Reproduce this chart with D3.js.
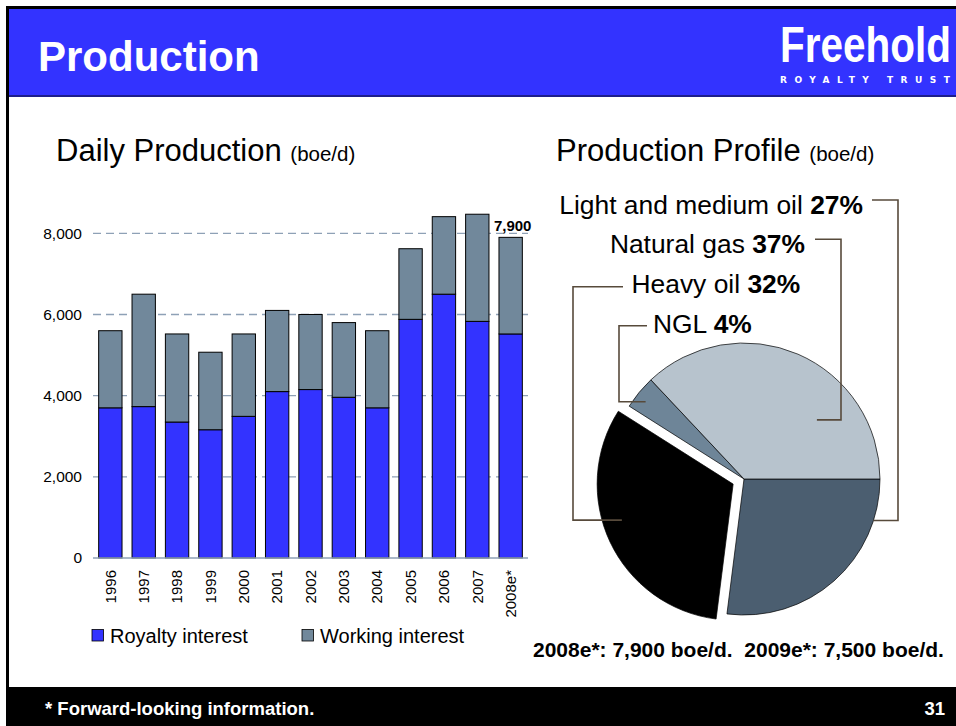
<!DOCTYPE html>
<html><head><meta charset="utf-8">
<script src="https://cdn.jsdelivr.net/npm/d3@7"></script>
<style>
html,body{margin:0;padding:0;background:#fff;}
svg{display:block;font-family:"Liberation Sans",Arial,sans-serif;}
text{white-space:pre;}
</style></head>
<body><svg id="c" width="956" height="726"></svg>
<script>
// ---- data ----
const years = ["1996","1997","1998","1999","2000","2001","2002","2003","2004","2005","2006","2007","2008e*"];
const royalty = [3700,3730,3350,3160,3490,4100,4150,3960,3700,5880,6500,5830,5520];
const working = [1900,2770,2170,1910,2030,2000,1850,1840,1900,1740,1910,2640,2380];
const seriesNames = ["Royalty interest","Working interest"];
const yTicks = [0,2000,4000,6000,8000];
const lastBarLabel = "7,900";
const pieNames = ["Light and medium oil","Heavy oil","NGL","Natural gas"];
const pieValues = [27,32,4,37];
const pieColors = ["#4b5e70","#000000","#6e8598","#b7c3cd"];
const barColors = ["#3333ff","#71889b"];

const svg = d3.select("#c");
const FF = '"Liberation Sans",Arial,sans-serif';

// ---- slide frame ----
svg.append("rect").attr("x",6).attr("y",6).attr("width",950).attr("height",720).attr("fill","#000");
svg.append("rect").attr("x",9).attr("y",9).attr("width",947).attr("height",678).attr("fill","#fff");
svg.append("rect").attr("x",9).attr("y",9).attr("width",947).attr("height",87).attr("fill","#3333ff");
svg.append("rect").attr("x",9).attr("y",95).attr("width",947).attr("height",2).attr("fill","#1e1e8c");
svg.append("text").attr("x",38).attr("y",71).attr("fill","#fff").attr("font-weight","bold")
  .attr("font-size",42).text("Production");
svg.append("text").attr("transform","translate(780,62) scale(0.81,1)").attr("fill","#fff")
  .attr("font-weight","bold").attr("font-size",50).text("Freehold");
svg.append("text").attr("x",780).attr("y",83).attr("fill","#fff").attr("font-weight","bold")
  .attr("font-family","DejaVu Sans").attr("font-size",9).attr("textLength",170)
  .attr("lengthAdjust","spacing").text("ROYALTY TRUST");
svg.append("text").attr("x",45).attr("y",715).attr("fill","#fff").attr("font-weight","bold")
  .attr("font-size",18.5).text("* Forward-looking information.");
svg.append("text").attr("x",945).attr("y",715).attr("fill","#fff").attr("font-weight","bold")
  .attr("font-size",18.5).attr("text-anchor","end").text("31");

// ---- titles ----
const t1 = svg.append("text").attr("x",56).attr("y",161).attr("fill","#000");
t1.append("tspan").attr("font-size",31).text("Daily Production ");
t1.append("tspan").attr("font-size",20.5).text("(boe/d)");
const t2 = svg.append("text").attr("x",556).attr("y",161).attr("fill","#000");
t2.append("tspan").attr("font-size",31).text("Production Profile ");
t2.append("tspan").attr("font-size",20.5).text("(boe/d)");

// ---- bar chart ----
const x = d3.scaleBand().domain(years).range([93,528]).paddingInner(0.3).paddingOuter(0.17);
const y = d3.scaleLinear().domain([0,8000]).range([558,233.3]);

const grid = svg.append("g");
grid.selectAll("line").data(yTicks.filter(d=>d>0)).join("line")
  .attr("x1",93).attr("x2",528).attr("y1",d=>y(d)).attr("y2",d=>y(d))
  .attr("stroke","#8ea1b6").attr("stroke-width",1.3).attr("stroke-dasharray","8,5");

const rows = years.map((yr,i)=>({year:yr, r:royalty[i], w:working[i]}));
const stack = d3.stack().keys(["r","w"])(rows);
svg.append("g").selectAll("g").data(stack).join("g")
  .attr("fill",(d,i)=>barColors[i])
  .selectAll("rect").data(d=>d).join("rect")
  .attr("x",d=>x(d.data.year)).attr("width",x.bandwidth())
  .attr("y",d=>y(d[1])).attr("height",d=>y(d[0])-y(d[1]))
  .attr("stroke","#000").attr("stroke-width",1);

svg.append("line").attr("x1",93).attr("x2",528).attr("y1",y(0)).attr("y2",y(0))
  .attr("stroke","#8ea1b6").attr("stroke-width",1.5);

const yAxis = d3.axisLeft(y).tickValues(yTicks).tickSize(0).tickPadding(0).tickFormat(d3.format(","));
const ya = svg.append("g").attr("transform","translate(82,0)").call(yAxis);
ya.select(".domain").remove();
ya.selectAll("text").attr("font-size",15.5).attr("font-family",FF).attr("fill","#000");

const xAxis = d3.axisBottom(x).tickSize(0).tickPadding(0);
const xa = svg.append("g").attr("transform",`translate(0,${y(0)})`).call(xAxis);
xa.select(".domain").remove();
xa.selectAll("text").attr("font-size",15).attr("font-family",FF).attr("fill","#000")
  .attr("text-anchor","end").attr("transform","translate(0,12) rotate(-90)")
  .attr("x",0).attr("y",0).attr("dy","0.35em");

const lastYear = years[years.length-1];
svg.append("text").attr("x",x(lastYear)+x.bandwidth()/2+2).attr("y",y(royalty[12]+working[12])-6.5)
  .attr("text-anchor","middle").attr("font-weight","bold").attr("font-size",15).text(lastBarLabel);

// legend
const legX = [92,302];
seriesNames.forEach((n,i)=>{
  svg.append("rect").attr("x",legX[i]).attr("y",629.5).attr("width",11.5).attr("height",11.5)
    .attr("fill",barColors[i]).attr("stroke","#000").attr("stroke-width",0.8);
  svg.append("text").attr("x",legX[i]+18).attr("y",642.5).attr("font-size",20).text(n);
});

// ---- pie ----
const cx=744, cy=479, R=136;
const pie = d3.pie().sort(null).startAngle(Math.PI/2).endAngle(Math.PI/2+2*Math.PI);
const arcs = pie(pieValues);
const arc = d3.arc().innerRadius(0).outerRadius(R);
const explode = [0,12,0,0];
const offs = arcs.map((a,i)=>{const m=(a.startAngle+a.endAngle)/2; return [Math.sin(m)*explode[i], -Math.cos(m)*explode[i]];});
svg.append("g").selectAll("path").data(arcs).join("path")
  .attr("transform",(d,i)=>`translate(${cx+offs[i][0]},${cy+offs[i][1]})`)
  .attr("d",arc).attr("fill",(d,i)=>pieColors[i]).attr("stroke","#000").attr("stroke-width",0.7);

// labels (index into pie arrays) with leader lines
const labelLayout = [
  {i:0, ty:214.3, tx:863, anchor:"end",   ly:200,   elbow:898, lx:872, frac:0.183, rf:1.0},
  {i:3, ty:253.3, tx:805, anchor:"end",   ly:239.3, elbow:841, lx:815, frac:0.707, rf:0.69},
  {i:1, ty:293.3, tx:631.5,anchor:"start",ly:286.7, elbow:573, lx:623, frac:0.563, rf:0.86},
  {i:2, ty:333.3, tx:653, anchor:"start", ly:325.7, elbow:619, lx:647, frac:0.40,  rf:0.92}
];
labelLayout.forEach(L=>{
  const a = arcs[L.i];
  const ang = a.startAngle + (a.endAngle-a.startAngle)*L.frac;
  const px = cx+offs[L.i][0]+Math.sin(ang)*R*L.rf;
  const py = cy+offs[L.i][1]-Math.cos(ang)*R*L.rf;
  svg.append("path").attr("d",`M${L.lx},${L.ly}H${L.elbow}V${py}H${px}`)
    .attr("fill","none").attr("stroke","#574a3b").attr("stroke-width",1.6);
  const t = svg.append("text").attr("x",L.tx).attr("y",L.ty).attr("text-anchor",L.anchor).attr("font-size",26.4);
  t.append("tspan").text(pieNames[L.i]+" ");
  t.append("tspan").attr("font-weight","bold").text(pieValues[L.i]+"%");
});

svg.append("text").attr("x",533).attr("y",657).attr("font-weight","bold").attr("font-size",21)
  .text("2008e*: 7,900 boe/d.  2009e*: 7,500 boe/d.");
</script></body></html>
